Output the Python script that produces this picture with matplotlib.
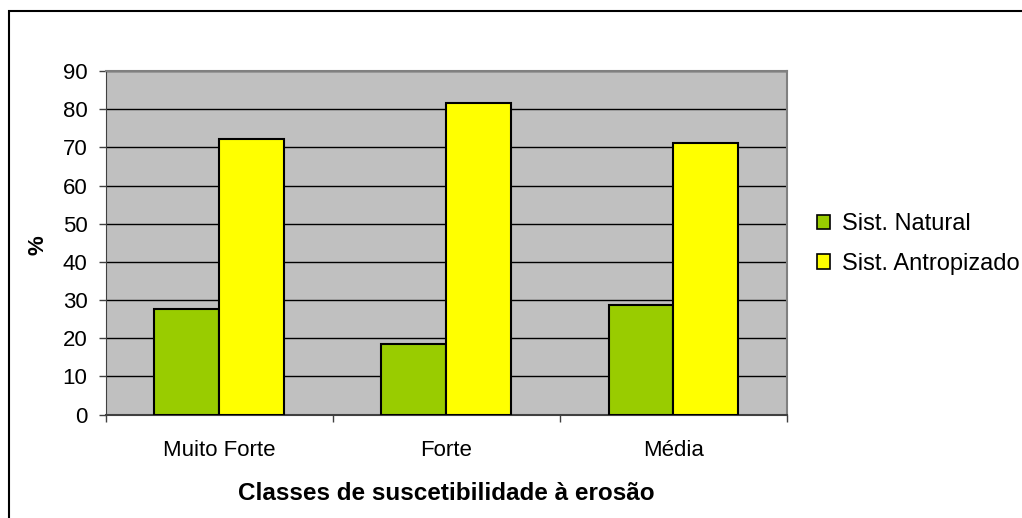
import numpy as np
import matplotlib as mpl
mpl.use('Agg')
from matplotlib import pyplot as plt
from matplotlib.patches import Rectangle

categories = ['Muito Forte', 'Forte', 'Média']
natural = [27.7, 18.5, 28.8]
antropizado = [72.3, 81.5, 71.2]
series_names = ['Sist. Natural', 'Sist. Antropizado']

plt.rcParams['font.family'] = ['Liberation Sans', 'DejaVu Sans']

fig = plt.figure(figsize=(10.22, 5.18), dpi=100)
ax = fig.add_axes([0.1034, 0.1998, 0.6666, 0.6631])

x = np.arange(len(categories))
w = 1 / 3.5
ax.bar(x - w / 2, natural, w, color='#99CC00', edgecolor='black', linewidth=1.5,
       label=series_names[0], zorder=3)
ax.bar(x + w / 2, antropizado, w, color='#FFFF00', edgecolor='black', linewidth=1.5,
       label=series_names[1], zorder=3)

ax.set_facecolor('#C0C0C0')
ax.set_xlim(-0.5, len(categories) - 0.5)
ax.set_ylim(0, 90)
ax.set_yticks(np.arange(0, 91, 10))
ax.yaxis.grid(True, color='black', linewidth=1, zorder=1)
ax.set_axisbelow(True)

ax.set_xticks(x)
ax.set_xticklabels(categories)
ax.set_xticks(np.arange(-0.5, len(categories), 1), minor=True)
ax.tick_params(axis='x', which='major', length=0, pad=18, labelsize=16)
ax.tick_params(axis='x', which='minor', length=5, width=1, color='#404040')
ax.tick_params(axis='y', length=5, width=1, color='#404040', pad=8, labelsize=16)

for s in ['top', 'right']:
    ax.spines[s].set_color('#808080')
    ax.spines[s].set_linewidth(1.5)
ax.spines['left'].set_color('#404040')
ax.spines['bottom'].set_color('#404040')
ax.spines['bottom'].set_linewidth(1.5)

fig.text(0.437, 1 - 494 / 518, 'Classes de suscetibilidade à erosão', ha='center', va='center',
         fontsize=17.5, fontweight='bold')
fig.text(38 / 1022, 1 - 245 / 518, '%', ha='center', va='center', rotation=90,
         fontsize=16, fontweight='bold')

leg = fig.legend(loc='center left', bbox_to_anchor=(0.779, 1 - 244 / 518), frameon=False,
                 fontsize=17, handlelength=0.55, handleheight=0.55, handletextpad=0.5,
                 labelspacing=0.75)
for h in leg.legend_handles:
    h.set_linewidth(1.2)

fig.patches.append(Rectangle((9 / 1022, -0.1), 1.2, 1 - 11 / 518 + 0.1, transform=fig.transFigure,
                             fill=False, edgecolor='black', linewidth=1.5, zorder=0))

plt.savefig('out.png', dpi=100)
